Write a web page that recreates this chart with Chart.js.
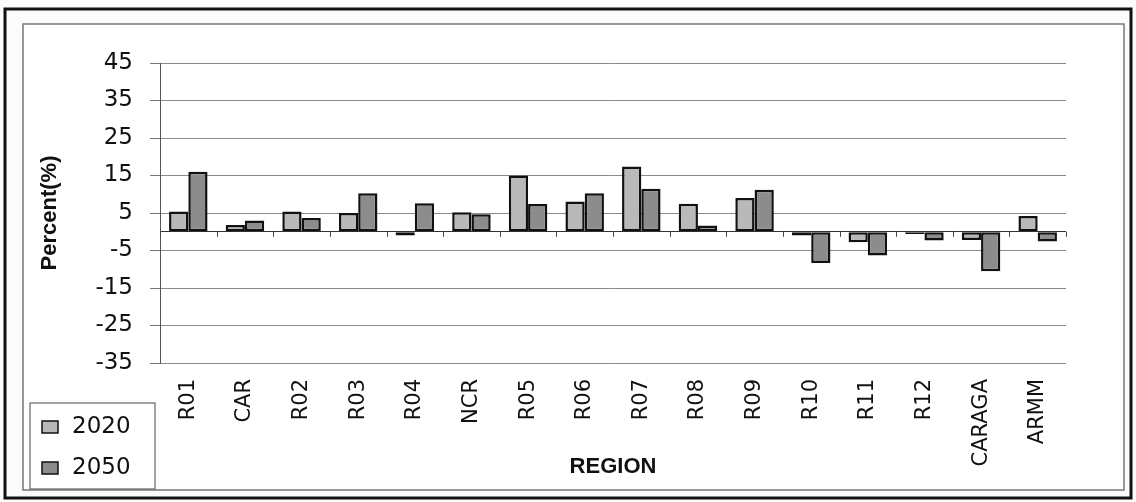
<!DOCTYPE html>
<html>
<head>
  <title>Percent by Region</title>
  <meta charset="utf-8" />
  <style>
    body { margin: 0; background: #fbfbfb; }
    #wrap { width: 1136px; height: 502px; }
  </style>
  <script src="https://cdn.jsdelivr.net/npm/chart.js"></script>
</head>
<body>
<div id="wrap"><canvas id="myChart" width="1136" height="502"></canvas></div>
<script>
  const regions = ['R01', 'CAR', 'R02', 'R03', 'R04', 'NCR', 'R05', 'R06', 'R07', 'R08', 'R09', 'R10', 'R11', 'R12', 'CARAGA', 'ARMM'];
  const values2020 = [5.4, 1.8, 5.4, 5.0, -1.0, 5.2, 15.0, 8.1, 17.4, 7.5, 9.0, -1.0, -2.8, -0.6, -2.2, 4.2];
  const values2050 = [16.0, 3.0, 3.7, 10.3, 7.6, 4.7, 7.4, 10.3, 11.5, 1.7, 11.2, -8.3, -6.3, -2.3, -10.5, -2.6];
  const yTicks = [-35, -25, -15, -5, 0, 5, 15, 25, 35, 45];

  // frame, zero-line tick marks and the boxed legend bottom left
  const decor = {
    id: 'decor',
    beforeDraw(chart) {
      const c = chart.ctx;
      c.save();
      c.fillStyle = '#ffffff';
      c.fillRect(23, 24, 1101, 466);
      c.strokeStyle = '#111';
      c.lineWidth = 3;
      c.strokeRect(5, 9, 1126, 489);
      c.strokeStyle = '#777';
      c.lineWidth = 1.5;
      c.strokeRect(23, 24, 1101, 466);
      c.restore();
    },
    afterDatasetsDraw(chart) {
      const c = chart.ctx;
      const xs = chart.scales.x, ys = chart.scales.y;
      const y0 = ys.getPixelForValue(0);
      const step = xs.width / regions.length;
      c.save();
      c.strokeStyle = '#444';
      c.lineWidth = 1;
      for (let i = 0; i <= regions.length; i++) {
        const x = Math.round(xs.left + i * step) + 0.5;
        c.beginPath();
        c.moveTo(x, y0);
        c.lineTo(x, y0 + 5);
        c.stroke();
      }
      // legend box
      c.strokeStyle = '#666';
      c.lineWidth = 1.2;
      c.strokeRect(30, 403, 125, 86);
      c.font = '23px "DejaVu Sans"';
      c.textBaseline = 'middle';
      chart.data.datasets.forEach((ds, i) => {
        const ly = 427 + i * 41;
        c.fillStyle = ds.backgroundColor;
        c.fillRect(42, ly - 6, 16, 12);
        c.strokeStyle = '#111';
        c.lineWidth = 1.5;
        c.strokeRect(42, ly - 6, 16, 12);
        c.fillStyle = '#111';
        c.fillText(ds.label, 72, ly);
      });
      c.restore();
    }
  };

  new Chart(document.getElementById('myChart'), {
    type: 'bar',
    data: {
      labels: regions,
      datasets: [{
        label: '2020',
        data: values2020,
        backgroundColor: '#b9b9b9',
        borderColor: '#111',
        borderWidth: 2.5,
        borderSkipped: false,
        categoryPercentage: 0.68,
        barPercentage: 1.0
      },
      {
        label: '2050',
        data: values2050,
        backgroundColor: '#8c8c8c',
        borderColor: '#111',
        borderWidth: 2.5,
        borderSkipped: false,
        categoryPercentage: 0.68,
        barPercentage: 1.0
      }]
    },
    options: {
      responsive: false,
      animation: false,
      layout: { padding: { left: 23, top: 63, right: 70, bottom: 12 } },
      plugins: {
        legend: { display: false },
        tooltip: { enabled: false }
      },
      scales: {
        x: {
          grid: { display: false },
          border: { display: false },
          ticks: {
            color: '#111',
            font: { family: 'DejaVu Sans', size: 21 },
            minRotation: 90,
            maxRotation: 90,
            autoSkip: false,
            padding: 8
          },
          title: {
            display: true,
            text: 'REGION',
            color: '#111',
            font: { family: 'Liberation Sans', size: 22, weight: 'bold' },
            padding: { top: 0, bottom: 10 }
          },
          afterFit: (scale) => { scale.height = 127; }
        },
        y: {
          min: -35,
          max: 45,
          afterBuildTicks: (scale) => { scale.ticks = yTicks.map(v => ({ value: v })); },
          grid: {
            color: (ctx) => ctx.tick && ctx.tick.value === 0 ? '#333' : '#8a8a8a',
            tickColor: (ctx) => ctx.tick && ctx.tick.value === 0 ? 'rgba(0,0,0,0)' : '#777',
            tickLength: 10,
            lineWidth: 1
          },
          border: { color: '#555', width: 1 },
          ticks: {
            color: '#111',
            font: { family: 'DejaVu Sans', size: 23 },
            padding: 17,
            callback: (v) => v === 0 ? '' : v
          },
          title: {
            display: true,
            text: 'Percent(%)',
            color: '#111',
            font: { family: 'Liberation Sans', size: 22, weight: 'bold' },
            padding: { top: 14, bottom: 0 }
          },
          afterFit: (scale) => { scale.width = 137; }
        }
      }
    },
    plugins: [decor]
  });
</script>
</body>
</html>
